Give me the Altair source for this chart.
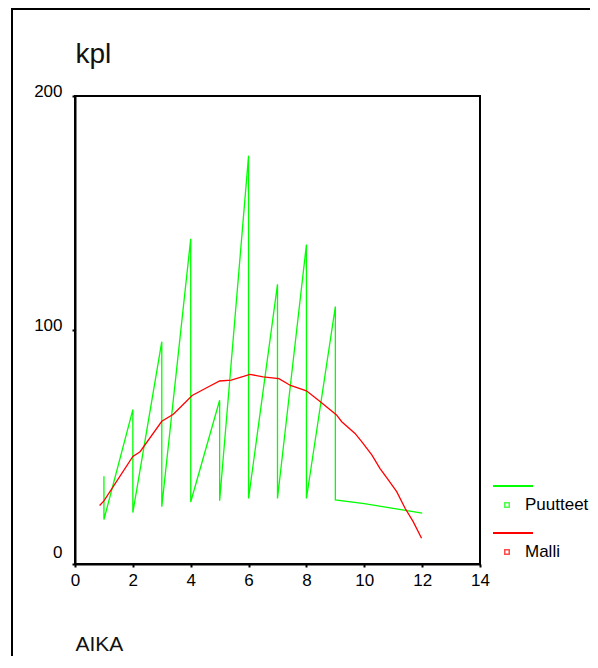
import altair as alt
import pandas as pd

# Observed series (Puutteet)
obs_x = [1, 1, 2, 2, 3, 3, 4, 4, 5, 5, 6, 6, 7, 7, 8, 8, 9, 9, 10, 11, 12]
obs_y = [37.5, 19, 66, 22, 95, 24.5, 139, 26.5, 70, 27, 174.5, 28, 119.5, 28,
         136.5, 28, 110, 27.4, 25.8, 23.8, 21.7]

# Model series (Malli)
model_x = [0.85, 1.0, 2.0, 2.25, 3.0, 3.4, 4.05, 4.55, 5.0, 5.4, 6.05, 6.5, 7.05,
           7.45, 8.0, 8.47, 9.04, 9.22, 9.68, 9.91, 10.26, 10.54, 10.83, 11.12,
           11.41, 11.69, 11.98]
model_y = [25, 27, 46, 48, 61, 64, 72, 75.3, 78.2, 78.6, 81, 80, 79.2, 76.3, 74,
           69.4, 63.7, 60.8, 55.8, 52.3, 46.6, 40.9, 35.9, 30.9, 23.8, 18.1, 11]

series_names = ["Puutteet", "Malli"]
series_colors = ["#00ff00", "#ff0000"]

x_ticks = [0, 2, 4, 6, 8, 10, 12, 14]
y_ticks = [0, 100, 200]

FONT = "Liberation Sans, Arial, sans-serif"

obs_df = pd.DataFrame({"AIKA": obs_x, "kpl": obs_y, "i": range(len(obs_x))})
model_df = pd.DataFrame({"AIKA": model_x, "kpl": model_y, "i": range(len(model_x))})

x_scale = alt.Scale(domain=[0, 14], nice=False, zero=False)
y_scale = alt.Scale(domain=[0, 200], nice=False)

x_axis = alt.Axis(
    values=x_ticks, title="AIKA", titleX=0, titleY=86, titleAlign="left",
    titleBaseline="alphabetic", titleFont=FONT, titleFontSize=21,
    titleFontWeight="normal", titleColor="#111111",
    grid=False, domainColor="black", domainWidth=2, tickColor="black",
    tickWidth=2, tickSize=3, labelFont=FONT, labelFontSize=17,
    labelColor="black", labelPadding=5, labelFlush=False,
)
y_axis = alt.Axis(
    values=y_ticks, title="kpl", titleAngle=0, titleX=0, titleY=-34,
    titleAlign="left", titleBaseline="alphabetic", titleFont=FONT,
    titleFontSize=28, titleFontWeight="normal", titleColor="#111111",
    grid=False, domainColor="black", domainWidth=2, tickColor="black",
    tickWidth=2, tickSize=3, labelFont=FONT, labelFontSize=17,
    labelColor="black", labelPadding=10, labelFlush=False,
    labelOffset={"condition": {"test": "datum.value === 0", "value": -12}, "value": -5},
)

obs_line = alt.Chart(obs_df).mark_line(color=series_colors[0], strokeWidth=1.3).encode(
    x=alt.X("AIKA:Q", scale=x_scale, axis=x_axis),
    y=alt.Y("kpl:Q", scale=y_scale, axis=y_axis),
    order=alt.Order("i:Q"),
)
model_line = alt.Chart(model_df).mark_line(color=series_colors[1], strokeWidth=1.3).encode(
    x=alt.X("AIKA:Q", scale=x_scale),
    y=alt.Y("kpl:Q", scale=y_scale),
    order=alt.Order("i:Q"),
)

one = pd.DataFrame({"a": [0]})

# outer frame (left and top edges visible; right/bottom fall outside the canvas)
frame = alt.Chart(one).mark_rect(fillOpacity=0, stroke="black", strokeWidth=2).encode(
    x=alt.value(-63), x2=alt.value(540), y=alt.value(-87), y2=alt.value(600)
)

legend_layers = []
for k, (name, col) in enumerate(zip(series_names, series_colors)):
    dy = 47 * k
    legend_layers.append(
        alt.Chart(one).mark_rule(color=col, strokeWidth=2).encode(
            x=alt.value(418), x2=alt.value(458), y=alt.value(390 + dy)
        )
    )
    legend_layers.append(
        alt.Chart(one).mark_point(shape="square", size=20, filled=False,
                                  color=col, strokeWidth=1.5).encode(
            x=alt.value(432), y=alt.value(409 + dy)
        )
    )
    legend_layers.append(
        alt.Chart(pd.DataFrame({"name": [name]})).mark_text(
            align="left", baseline="middle", font=FONT, fontSize=17, color="black"
        ).encode(text="name:N", x=alt.value(450), y=alt.value(409 + dy))
    )

chart = alt.layer(frame, obs_line, model_line, *legend_layers).properties(
    width=405, height=468,
    autosize=alt.AutoSizeParams(type="none"),
    padding={"left": 67, "top": 88, "right": 110, "bottom": 92},
    background="white",
).configure_view(stroke="black", strokeWidth=2)

chart.save("out.html", embed_options={"renderer": "svg", "actions": False})
